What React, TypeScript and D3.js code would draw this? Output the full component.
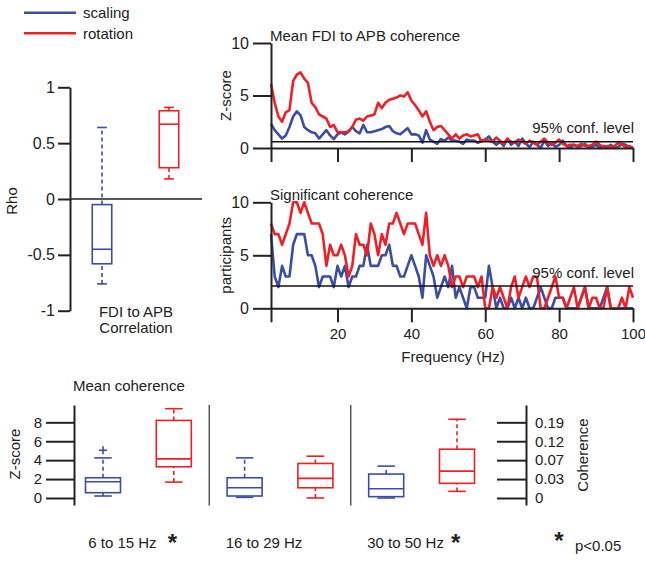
import React, { useEffect, useRef } from 'react';
import * as d3 from 'd3';

const BLUE = '#3a4ea6';
const RED = '#ee2027';
const INK = '#222';
const FONT = "'Liberation Sans', Arial, Helvetica, sans-serif";

// frequency bins, 2..100 Hz
const freqs = d3.range(2, 101);

// mean FDI-APB coherence (z-score)
const zScaling = [
  2.3, 1.7, 1.3, 0.9, 1.2, 2.0, 3.0, 3.5, 3.1, 2.0,
  1.7, 1.5, 1.4, 0.9, 1.3, 1.7, 1.2, 0.85, 1.3, 1.5,
  1.3, 1.55, 2.0, 1.6, 1.4, 2.2, 1.5, 1.5, 1.6, 1.7,
  1.8, 2.0, 2.1, 1.6, 1.4, 1.3, 1.6, 1.9, 1.3, 1.3,
  1.2, 0.5, 1.7, 0.8, 0.6, 0.4, 0.85, 0.7, 1.0, 0.7,
  0.7, 0.6, 0.4, 0.8, 0.7, 0.7, 0.5, 0.7, 0.8, 1.1,
  0.6, 0.3, 0.6, 0.2, 0.85, 0.3, 0.6, 0.2, 0.9, 0.4,
  0.1, 0.6, 0.3, 0.0, 0.7, 0.2, 0.5, 0.1, 0.3, 0.7,
  0.2, 0.0, 0.3, 0.1, 0.2, 0.4, 0.0, 0.1, 0.3, 0.0,
  0.2, 0.1, 0.3, 0.0, 0.1, 0.4, 0.3, 0.1, 0.0,
];
const zRotation = [
  6.1, 4.3, 3.0, 2.5, 3.4, 3.6, 6.4, 7.0, 7.2, 6.6,
  6.2, 4.3, 3.9, 3.2, 3.0, 2.8, 2.0, 2.2, 1.5, 1.5,
  1.5, 1.6, 2.0, 2.7, 2.8, 2.6, 3.0, 3.1, 3.2, 4.3,
  3.8, 4.3, 4.6, 4.7, 4.8, 5.0, 4.9, 5.3, 4.5, 4.1,
  3.6, 3.0, 3.5, 2.5, 1.7, 2.0, 2.1, 1.7, 1.3, 0.9,
  1.3, 0.9, 1.2, 1.3, 1.1, 1.2, 1.3, 0.6, 0.8, 0.7,
  0.6, 1.0, 0.7, 0.4, 0.9, 0.6, 0.5, 0.8, 0.6, 0.4,
  0.7, 0.5, 0.3, 0.6, 0.9, 0.5, 0.3, 0.5, 0.8, 0.4,
  0.2, 0.3, 0.3, 0.2, 0.4, 0.2, 0.2, 0.3, 0.6, 0.3,
  0.1, 0.2, 0.1, 0.2, 0.5, 0.3, 0.1, 0.2, 0.0,
];
const zConf = 0.6;

// participants with significant coherence
const nScaling = [
  7, 3, 2, 4, 3, 3, 6, 7, 7, 7,
  5, 5, 4, 2, 3, 3, 3, 2, 4, 3,
  4, 2, 3, 3, 4, 4, 6, 4, 4, 4,
  5, 5, 6, 4, 4, 3, 3, 4, 5, 4,
  3, 1, 5, 4, 3, 1, 2, 3, 2, 4,
  1, 2, 1, 0, 2, 2, 1, 1, 1, 4,
  2, 0, 1, 0, 0, 1, 0, 1, 0, 1,
  0, 0, 1, 2, 1, 0, 0, 1, 1, 1,
  0, 0, 0, 0, 1, 2, 0, 0, 0, 0,
  1, 2, 0, 0, 0, 0, 0, 0, 0,
];
const nRotation = [
  8, 7, 7, 6, 7, 8, 10, 10, 9, 10,
  9, 8, 8, 8, 7, 4, 6, 5, 5, 6,
  5, 3, 4, 7, 6, 6, 5, 8, 7, 5,
  7, 6, 8, 8, 9, 8, 7, 8, 8, 8,
  7, 6, 9, 5, 4, 5, 4, 5, 4, 2,
  3, 3, 2, 3, 3, 3, 2, 3, 0, 0,
  2, 1, 2, 1, 0, 2, 3, 1, 2, 3,
  2, 3, 3, 0, 0, 1, 2, 3, 1, 1,
  0, 1, 2, 0, 1, 2, 0, 1, 1, 0,
  0, 2, 0, 0, 0, 1, 0, 2, 1,
];
const nConf = 2.1;

// rho box plots [min, q1, median, q3, max]
const conditions = ['scaling', 'rotation'];
const rhoBoxes = [
  [-0.76, -0.58, -0.45, -0.05, 0.64],
  [0.18, 0.28, 0.67, 0.79, 0.82],
];
const rhoTicks = [-1, -0.5, 0, 0.5, 1];

// mean coherence by band [min, q1, median, q3, max]
const bands = ['6 to 15 Hz', '16 to 29 Hz', '30 to 50 Hz'];
const bandSignificant = [true, false, true];
const bandScaling = [
  [0.21, 0.56, 1.72, 2.14, 4.24],
  [0.07, 0.21, 1.08, 2.14, 4.24],
  [0.0, 0.14, 0.98, 2.53, 3.37],
];
const bandRotation = [
  [1.68, 3.3, 4.14, 8.2, 9.44],
  [0.0, 1.08, 2.07, 3.65, 4.42],
  [0.7, 1.55, 2.84, 5.16, 8.32],
];
const bandScalingOutliers = [[5.05], [], []];
const zTicks = [0, 2, 4, 6, 8];
const cohLabels = ['0', '0.03', '0.07', '0.12', '0.19'];

const styleAxis = (g: any, size: number) => {
  g.attr('font-family', FONT).attr('font-size', size);
  g.selectAll('.domain').attr('stroke', INK).attr('stroke-width', 2);
  g.selectAll('.tick line').attr('stroke', INK).attr('stroke-width', 2);
  g.selectAll('.tick text').attr('fill', INK);
};

const drawBox = (g: any, cx: number, w: number, s: number[], y: any, color: string, sw: number) => {
  const [lo, q1, med, q3, hi] = s;
  const cap = w / 2;
  g.append('line').attr('x1', cx).attr('x2', cx).attr('y1', y(q3)).attr('y2', y(hi))
    .attr('stroke', color).attr('stroke-width', sw).attr('stroke-dasharray', '4,3');
  g.append('line').attr('x1', cx).attr('x2', cx).attr('y1', y(lo)).attr('y2', y(q1))
    .attr('stroke', color).attr('stroke-width', sw).attr('stroke-dasharray', '4,3');
  [lo, hi].forEach(v => {
    g.append('line').attr('x1', cx - cap / 2).attr('x2', cx + cap / 2).attr('y1', y(v)).attr('y2', y(v))
      .attr('stroke', color).attr('stroke-width', sw);
  });
  g.append('rect').attr('x', cx - w / 2).attr('y', y(q3)).attr('width', w).attr('height', y(q1) - y(q3))
    .attr('fill', 'none').attr('stroke', color).attr('stroke-width', sw);
  g.append('line').attr('x1', cx - w / 2).attr('x2', cx + w / 2).attr('y1', y(med)).attr('y2', y(med))
    .attr('stroke', color).attr('stroke-width', sw);
};

const App = () => {
  const ref = useRef<SVGSVGElement>(null);

  useEffect(() => {
    if (!ref.current) return;
    const svg = d3.select(ref.current);
    svg.selectAll('*').remove();

    // legend
    const legend = [{ name: 'scaling', color: BLUE }, { name: 'rotation', color: RED }];
    legend.forEach((d, i) => {
      const yy = 12.7 + i * 20.6;
      svg.append('line').attr('x1', 24).attr('x2', 76).attr('y1', yy).attr('y2', yy)
        .attr('stroke', d.color).attr('stroke-width', 2.5);
      svg.append('text').attr('x', 83).attr('y', yy + 5.3).attr('font-family', FONT)
        .attr('font-size', 15).attr('fill', INK).text(d.name);
    });

    // ---- Rho box plot
    const yRho = d3.scaleLinear().domain([-1, 1]).range([310.7, 87.3]);
    const xRho = d3.scalePoint().domain(conditions).range([102, 169]);
    const gl = svg.append('g');
    gl.append('line').attr('x1', 70).attr('x2', 202).attr('y1', yRho(0)).attr('y2', yRho(0))
      .attr('stroke', INK).attr('stroke-width', 1.5);
    const axRho = gl.append('g').attr('transform', 'translate(70,0)')
      .call(d3.axisLeft(yRho).tickValues(rhoTicks).tickSize(12).tickSizeOuter(0).tickPadding(3)
        .tickFormat((d: any) => String(d)));
    styleAxis(axRho, 16);
    conditions.forEach((c, i) => {
      drawBox(gl, xRho(c)!, 19.5, rhoBoxes[i], yRho, i === 0 ? BLUE : RED, 1.6);
    });
    gl.append('text').attr('transform', 'translate(17,201) rotate(-90)').attr('text-anchor', 'middle')
      .attr('font-family', FONT).attr('font-size', 15).attr('fill', INK).text('Rho');
    gl.append('text').attr('x', 136).attr('y', 316.5).attr('text-anchor', 'middle')
      .attr('font-family', FONT).attr('font-size', 15).attr('fill', INK).text('FDI to APB');
    gl.append('text').attr('x', 136).attr('y', 333).attr('text-anchor', 'middle')
      .attr('font-family', FONT).attr('font-size', 15).attr('fill', INK).text('Correlation');

    // ---- frequency panels
    const xF = d3.scaleLinear().domain([2, 100]).range([271, 633]);
    const fTicks = [2, 20, 40, 60, 80, 100];

    const panel = (yDom: [number, number], yRange: [number, number], sBlue: number[], sRed: number[],
      conf: number, title: string, ylab: string, showX: boolean) => {
      const y = d3.scaleLinear().domain(yDom).range(yRange);
      const g = svg.append('g');
      const line = d3.line<number>().x((_, i) => xF(freqs[i])).y(d => y(d));
      g.append('path').datum(sBlue).attr('d', line).attr('fill', 'none').attr('stroke', BLUE)
        .attr('stroke-width', 2.6).attr('stroke-linejoin', 'round');
      g.append('path').datum(sRed).attr('d', line).attr('fill', 'none').attr('stroke', RED)
        .attr('stroke-width', 2.6).attr('stroke-linejoin', 'round');
      g.append('line').attr('x1', xF(2)).attr('x2', xF(100)).attr('y1', y(conf)).attr('y2', y(conf))
        .attr('stroke', '#111').attr('stroke-width', 1.5);
      const ax = g.append('g').attr('transform', `translate(0,${y(0)})`)
        .call(d3.axisBottom(xF).tickValues(fTicks).tickSize(14).tickSizeOuter(0).tickPadding(6)
          .tickFormat((d: any) => (showX && d !== 2 ? String(d) : '')));
      styleAxis(ax, 15);
      const ay = g.append('g').attr('transform', `translate(${xF(2)},0)`)
        .call(d3.axisLeft(y).tickValues([0, 5, 10]).tickSize(18).tickSizeOuter(0).tickPadding(4));
      styleAxis(ay, 16);
      g.append('text').attr('x', 270).attr('y', yRange[1] - 2.5).attr('font-family', FONT)
        .attr('font-size', 15).attr('fill', INK).text(title);
      g.append('text').attr('x', 634).attr('y', y(conf) - 8.5).attr('text-anchor', 'end')
        .attr('font-family', FONT).attr('font-size', 15).attr('fill', INK).text('95% conf. level');
      g.append('text').attr('transform', `translate(231,${(yRange[0] + yRange[1]) / 2}) rotate(-90)`)
        .attr('text-anchor', 'middle').attr('font-family', FONT).attr('font-size', 15).attr('fill', INK)
        .text(ylab);
    };
    panel([0, 10], [148, 43], zScaling, zRotation, zConf, 'Mean FDI to APB coherence', 'Z-score', false);
    panel([0, 10], [308.3, 202.3], nScaling, nRotation, nConf, 'Significant coherence', 'participants', true);
    svg.append('text').attr('x', 453).attr('y', 362).attr('text-anchor', 'middle')
      .attr('font-family', FONT).attr('font-size', 15).attr('fill', INK).text('Frequency (Hz)');

    // ---- mean coherence boxes
    const yB = d3.scaleLinear().domain([-0.74, 9.83]).range([505, 405]);
    const xG = d3.scaleBand().domain(bands).range([67.6, 492.4]);
    const gb = svg.append('g');
    bands.slice(1).forEach(b => {
      gb.append('line').attr('x1', xG(b)!).attr('x2', xG(b)!).attr('y1', 405).attr('y2', 505.5)
        .attr('stroke', '#333').attr('stroke-width', 1.2);
    });
    const axL = gb.append('g').attr('transform', 'translate(74,0)')
      .call(d3.axisLeft(yB).tickValues(zTicks).tickSize(28).tickSizeOuter(0).tickPadding(4));
    styleAxis(axL, 15);
    const axR = gb.append('g').attr('transform', 'translate(526,0)')
      .call(d3.axisRight(yB).tickValues(zTicks).tickSize(-29).tickSizeOuter(0).tickPadding(9)
        .tickFormat((_: any, i: number) => cohLabels[i]));
    styleAxis(axR, 15);
    const bw = xG.bandwidth();
    bands.forEach((b, i) => {
      const c = xG(b)! + bw / 2;
      drawBox(gb, c - bw / 4, 35, bandScaling[i], yB, BLUE, 1.6);
      drawBox(gb, c + bw / 4, 35, bandRotation[i], yB, RED, 1.6);
      bandScalingOutliers[i].forEach(v => {
        const ox = c - bw / 4;
        gb.append('path').attr('d', `M${ox - 4},${yB(v)}h8M${ox},${yB(v) - 4}v8`)
          .attr('stroke', BLUE).attr('stroke-width', 1.6);
      });
      gb.append('text').attr('x', c - 16).attr('y', 548).attr('text-anchor', 'middle')
        .attr('font-family', FONT).attr('font-size', 15).attr('fill', INK).text(b);
      if (bandSignificant[i]) {
        gb.append('text').attr('x', c + 34).attr('y', 551).attr('text-anchor', 'middle')
          .attr('font-family', FONT).attr('font-size', 24).attr('font-weight', 'bold')
          .attr('fill', INK).text('*');
      }
    });
    gb.append('text').attr('x', 73).attr('y', 391).attr('font-family', FONT).attr('font-size', 15)
      .attr('fill', INK).text('Mean coherence');
    gb.append('text').attr('transform', 'translate(20,454) rotate(-90)').attr('text-anchor', 'middle')
      .attr('font-family', FONT).attr('font-size', 15).attr('fill', INK).text('Z-score');
    gb.append('text').attr('transform', 'translate(588,455) rotate(-90)').attr('text-anchor', 'middle')
      .attr('font-family', FONT).attr('font-size', 15).attr('fill', INK).text('Coherence');
    gb.append('text').attr('x', 559).attr('y', 549).attr('text-anchor', 'middle')
      .attr('font-family', FONT).attr('font-size', 24).attr('font-weight', 'bold')
      .attr('fill', INK).text('*');
    gb.append('text').attr('x', 575).attr('y', 551).attr('font-family', FONT).attr('font-size', 15)
      .attr('fill', INK).text('p<0.05');
  }, []);

  return (
    <svg ref={ref} width={645} height={571}
      style={{ position: 'absolute', left: 0, top: 0, background: '#fff' }}></svg>
  );
};

export default App;
